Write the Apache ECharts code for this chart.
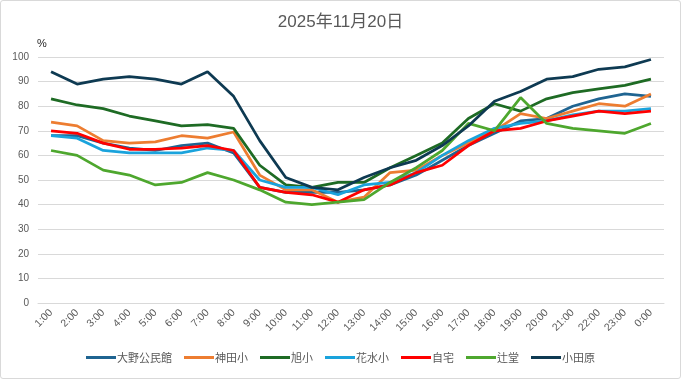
<!DOCTYPE html>
<html><head><meta charset="utf-8">
<script src="https://cdn.jsdelivr.net/npm/echarts@6/dist/echarts.min.js"></script>
<style>html,body{margin:0;padding:0;background:#fff}#c{width:679px;height:377px;border:1px solid #d9d9d9;border-radius:3px}</style>
</head><body><div id="c"></div>
<script>
const categories=["1:00","2:00","3:00","4:00","5:00","6:00","7:00","8:00","9:00","10:00","11:00","12:00","13:00","14:00","15:00","16:00","17:00","18:00","19:00","20:00","21:00","22:00","23:00","0:00"];
const ohno=[68,68,65,63,62,64,65,61,47,45,45,45,46,48,52,58,64,69,74,75,80,83,85,84];
const kanda=[73.5,72,66,65,65.5,68,67,69.5,52,46,46,41,43,53,54,60,65,70,77,75,78,81,80,85];
const asahi=[83,80.5,79,76,74,72,72.5,71,56,48,47,49,49,55,60,65,75,81,78,83,85.5,87,88.5,91];
const hanamizu=[68,67,62,61,61,61,63,62,50,47,47,44,48,49,53,60,66,71,73,74,76.5,78,78,79];
const jitaku=[70,69,65,62.5,62.5,63,64,62,47,45,44,41,46,48,53,56,64,70,71,74,76,78,77,78];
const tsujido=[62,60,54,52,48,49,53,50,46,41,40,41,42,49,55,62,73,70,83.5,73,71,70,69,73];
const odawara=[94,89,91,92,91,89,94,84,66,51,47,46,51,55,58,64,72,82,86,91,92,95,96,99];
const seriesNames=["大野公民館","神田小","旭小","花水小","自宅","辻堂","小田原"];
const seriesData=[ohno,kanda,asahi,hanamizu,jitaku,tsujido,odawara];
const colors=["#1F6491","#ED7D31","#1E6B24","#1AA3DC","#FF0000","#4EA72E","#0E3A52"];
const chart=echarts.init(document.getElementById('c'));
chart.setOption({
  animation:false,
  title:{text:"2025年11月20日",left:'center',top:8,textStyle:{fontSize:17,fontWeight:'normal',color:'#595959',fontFamily:'Liberation Sans, Noto Sans CJK JP'}},
  grid:{left:37,right:16,top:56,bottom:75,containLabel:false},
  legend:{bottom:10,left:'center',itemWidth:30,itemHeight:3,itemGap:12,icon:'rect',
    textStyle:{fontSize:11,color:'#595959',fontFamily:'Noto Sans CJK JP',padding:[0,0,0,-4]},
    data:seriesNames},
  xAxis:{type:'category',data:categories,boundaryGap:true,
    axisLine:{lineStyle:{color:'#d9d9d9'}},axisTick:{show:false},
    axisLabel:{rotate:45,fontSize:10.5,color:'#595959',interval:0,margin:8,fontFamily:'Liberation Sans'}},
  yAxis:{type:'value',min:0,max:100,interval:10,name:'%',nameLocation:'end',nameGap:8,
    nameTextStyle:{fontSize:11,color:'#262626',align:'left',padding:[0,0,0,-1],fontFamily:'Liberation Sans'},
    axisLine:{show:false},axisTick:{show:false},
    splitLine:{lineStyle:{color:'#d9d9d9',width:1}},
    axisLabel:{fontSize:10,color:'#595959',margin:9,fontFamily:'Liberation Sans'}},
  series:seriesNames.map((n,i)=>({name:n,type:'line',data:seriesData[i],symbol:'none',
    lineStyle:{width:2.75,color:colors[i]},itemStyle:{color:colors[i]}}))
});
</script></body></html>
